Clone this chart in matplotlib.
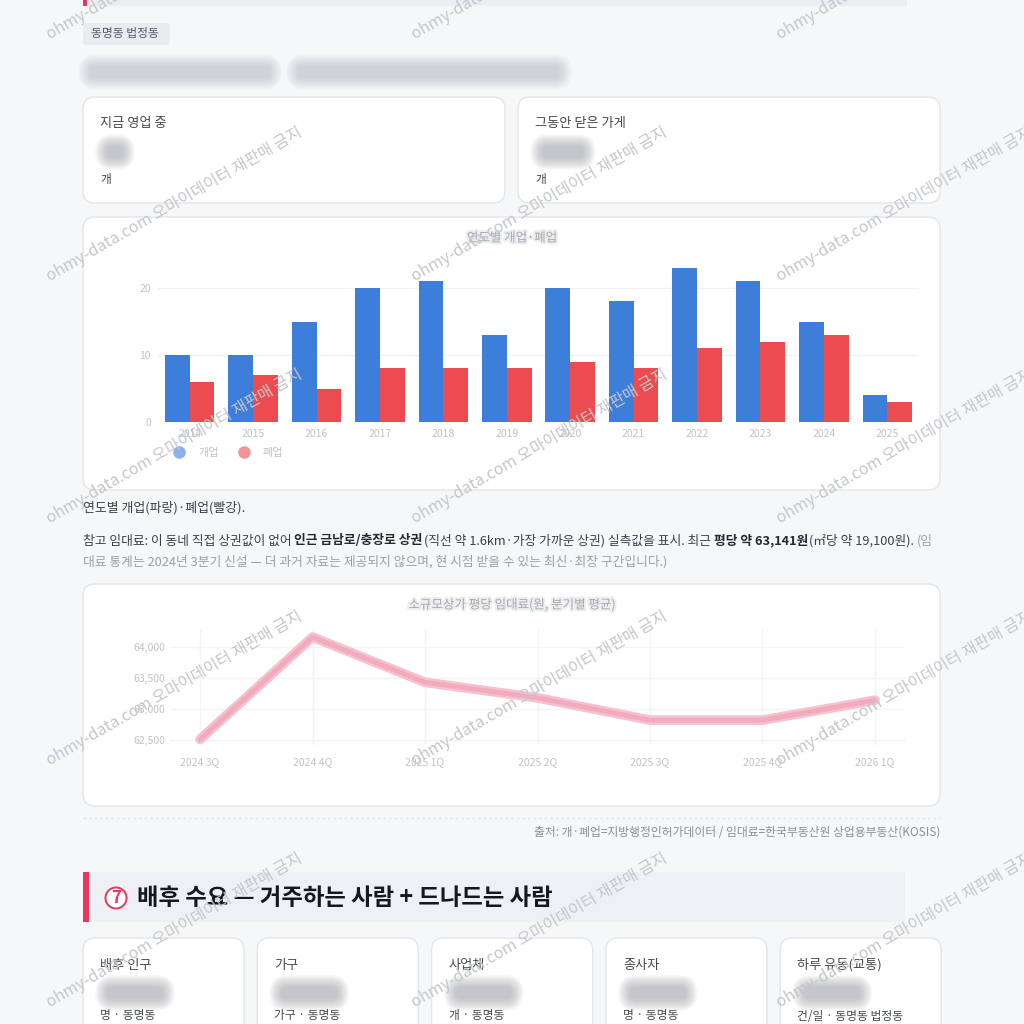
import matplotlib
matplotlib.use('Agg')
import matplotlib.pyplot as plt
import matplotlib.patches as patches
import matplotlib.patheffects as pe
from matplotlib.lines import Line2D
from matplotlib.ticker import FuncFormatter

plt.rcParams['font.family'] = ['Noto Sans CJK KR', 'DejaVu Sans']

# 연도별 개업/폐업
years = ['2014', '2015', '2016', '2017', '2018', '2019', '2020', '2021', '2022', '2023', '2024', '2025']
opened = [10, 10, 15, 20, 21, 13, 20, 18, 23, 21, 15, 4]
closed = [6, 7, 5, 8, 8, 8, 9, 8, 11, 12, 13, 3]

# 분기별 평당 임대료
quarters = ['2024 3Q', '2024 4Q', '2025 1Q', '2025 2Q', '2025 3Q', '2025 4Q', '2026 1Q']
rent = [62510, 64160, 63430, 63180, 62820, 62820, 63141]

top_cards = ['지금 영업 중', '그동안 닫은 가게']
demand_cards = ['배후 인구', '가구', '사업체', '종사자', '하루 유동(교통)']
demand_units = ['명 · 동명동', '가구 · 동명동', '개 · 동명동', '명 · 동명동', '건/일 · 동명동 법정동']

BG = '#f6f7f9'
BORDER = '#e2e5e9'
BLUE = '#3d7edb'
RED = '#ec4b50'
ACCENT = '#e8375f'

fig = plt.figure(figsize=(10.24, 10.24), dpi=100, facecolor=BG)
ax = fig.add_axes([0, 0, 1, 1])
ax.set_xlim(0, 1024)
ax.set_ylim(1024, 0)
ax.axis('off')
ax.set_facecolor(BG)


def card(x0, y0, x1, y1, fc='white', ec=BORDER, r=12):
    ax.add_patch(patches.FancyBboxPatch((x0, y0), x1 - x0, y1 - y0,
                                        boxstyle=f'round,pad=0,rounding_size={r}',
                                        fc=fc, ec=ec, lw=1))


def blob(x0, x1, yc, h, color='#8f939a', a=0.065, n=10):
    # 흐림 처리된 값 흉내
    for i in range(n):
        pad = (n - 1 - i) * 1.3
        ax.add_patch(patches.FancyBboxPatch((x0 - pad, yc - h / 2 - pad), x1 - x0 + 2 * pad, h + 2 * pad,
                                            boxstyle=f'round,pad=0,rounding_size={h / 2 + pad}',
                                            fc=color, ec='none', alpha=a))


def runs(x, y, parts, size):
    r = fig.canvas.get_renderer()
    t0 = ax.text(0, 0, '가 가', fontsize=size)
    t1 = ax.text(0, 0, '가가', fontsize=size)
    sp = t0.get_window_extent(r).width - t1.get_window_extent(r).width
    t0.remove()
    t1.remove()
    for s, w, c, space in parts:
        t = ax.text(x, y, s, fontsize=size, fontweight=w, color=c, va='center', ha='left')
        x += t.get_window_extent(r).width + (sp if space else 1)


# 상단 섹션 흔적
ax.add_patch(patches.Rectangle((87, 0), 820, 6, fc='#eceef1', ec='none'))
ax.add_patch(patches.Rectangle((83, 0), 4, 6, fc=ACCENT, ec='none'))

# 태그
card(83, 23, 170, 45, fc='#e8ecf1', ec='none', r=4)
ax.text(91, 34, '동명동 법정동', fontsize=8.5, color='#555b62', va='center')

# 흐린 부제
blob(90, 270, 72, 12, '#a3a7ad', a=0.05)
blob(298, 560, 72, 12, '#a3a7ad', a=0.05)

# 상단 카드 2개
for i, label in enumerate(top_cards):
    x0 = 83 + i * 435
    card(x0, 97, x0 + 422, 203)
    ax.text(x0 + 17, 124, label, fontsize=9.5, color='#444a50', va='center')
    blob(x0 + 24, x0 + (40 if i == 0 else 66), 152, 12)
    ax.text(x0 + 17, 180, '개', fontsize=8.5, color='#444a50', va='center')

# 막대 차트 카드
card(83, 217, 940, 490)
ax.text(512, 238, '연도별 개업·폐업', fontsize=9, color='#a4a8ae', ha='center', va='center',
        path_effects=[pe.withStroke(linewidth=3, foreground='#eceef0')])

bx = fig.add_axes([158 / 1024, 1 - 422 / 1024, 761 / 1024, 160 / 1024])
bx.set_facecolor('none')
pos = list(range(len(years)))
bx.bar([p - 0.195 for p in pos], opened, width=0.39, color=BLUE)
bx.bar([p + 0.195 for p in pos], closed, width=0.39, color=RED)
bx.set_xlim(-0.5, len(years) - 0.5)
bx.set_ylim(0, 23.9)
bx.set_yticks([0, 10, 20])
bx.set_xticks(pos)
bx.set_xticklabels(years)
bx.tick_params(length=0, labelsize=7.5, labelcolor='#c0c3c7', pad=5)
bx.grid(axis='y', color='#f0f1f3', lw=1)
bx.set_axisbelow(True)
for s in bx.spines.values():
    s.set_visible(False)
handles = [Line2D([], [], marker='o', ls='none', markerfacecolor=BLUE, markeredgecolor='none', markersize=9, alpha=0.6),
           Line2D([], [], marker='o', ls='none', markerfacecolor=RED, markeredgecolor='none', markersize=9, alpha=0.6)]
bx.legend(handles, ['개업', '폐업'], loc='upper left', bbox_to_anchor=(0.0, -0.1), ncol=2, frameon=False,
          fontsize=8, labelcolor='#c0c3c7', handletextpad=0.7, columnspacing=1.3)

# 설명 문단
ax.text(83, 508, '연도별 개업(파랑)·폐업(빨강).', fontsize=9.3, color='#3a4046', va='center')
runs(83, 541, [
    ('참고 임대료: 이 동네 직접 상권값이 없어', 'normal', '#3a4046', True),
    ('인근 금남로/충장로 상권', 'bold', '#23282d', False),
    ('(직선 약 1.6km·가장 가까운 상권) 실측값을 표시. 최근', 'normal', '#3a4046', True),
    ('평당 약 63,141원', 'bold', '#23282d', False),
    ('(㎡당 약 19,100원).', 'normal', '#3a4046', True),
    ('(임', 'normal', '#9aa0a7', False),
], 9.2)
ax.text(83, 562, '대료 통계는 2024년 3분기 신설 — 더 과거 자료는 제공되지 않으며, 현 시점 받을 수 있는 최신·최장 구간입니다.)',
        fontsize=9.2, color='#9aa0a7', va='center')

# 임대료 라인 차트 카드
card(83, 584, 940, 806)
ax.text(512, 605, '소규모상가 평당 임대료(원, 분기별 평균)', fontsize=9, color='#a4a8ae', ha='center', va='center',
        path_effects=[pe.withStroke(linewidth=3, foreground='#eceef0')])

lx = fig.add_axes([170 / 1024, 1 - 745 / 1024, 735 / 1024, 115 / 1024])
lx.set_facecolor('none')
lx.plot(range(len(quarters)), rent, color='#f6c2cf', lw=7, solid_joinstyle='round', solid_capstyle='round')
lx.plot(range(len(quarters)), rent, color='#f2aabd', lw=3.5, solid_joinstyle='round', solid_capstyle='round')
lx.set_xlim(-0.267, len(quarters) - 1 + 0.267)
lx.set_ylim(62419, 64274)
lx.set_yticks([62500, 63000, 63500, 64000])
lx.yaxis.set_major_formatter(FuncFormatter(lambda v, p: f'{v:,.0f}'))
lx.set_xticks(range(len(quarters)))
lx.set_xticklabels(quarters)
lx.tick_params(length=0, labelsize=7.5, labelcolor='#c0c3c7')
lx.tick_params(axis='x', pad=9)
lx.grid(color='#f3f4f5', lw=1)
lx.set_axisbelow(True)
for s in lx.spines.values():
    s.set_visible(False)

# 구분선, 출처
ax.plot([83, 940], [818, 818], color='#e3e5e8', lw=1, ls=(0, (2, 2)))
ax.text(940, 832, '출처: 개·폐업=지방행정인허가데이터 / 임대료=한국부동산원 상업용부동산(KOSIS)',
        fontsize=8.5, color='#8a9097', ha='right', va='center')

# 섹션 헤더
ax.add_patch(patches.Rectangle((83, 872), 822, 50, fc='#eef0f3', ec='none'))
ax.add_patch(patches.Rectangle((83, 872), 6, 50, fc=ACCENT, ec='none'))
ax.add_patch(patches.Circle((116, 898), 10.5, fc='white', ec=ACCENT, lw=1.4))
ax.text(116, 898, '7', fontsize=12, fontweight='bold', color=ACCENT, ha='center', va='center')
ax.text(137, 898, '배후 수요 — 거주하는 사람 + 드나드는 사람', fontsize=16.8, fontweight='heavy',
        color='#15191e', va='center')

# 배후 수요 카드
for i, (label, unit) in enumerate(zip(demand_cards, demand_units)):
    x0 = 83 + i * 174.3
    card(x0, 938, x0 + 161, 1040)
    ax.text(x0 + 17, 965, label, fontsize=9.5, color='#444a50', va='center')
    blob(x0 + 24, x0 + 80, 993, 12)
    ax.text(x0 + 17, 1016, unit, fontsize=8.5, color='#444a50', va='center')

# 워터마크
wm = fig.add_axes([0, 0, 1, 1])
wm.set_xlim(0, 1024)
wm.set_ylim(1024, 0)
wm.axis('off')
for ry in [40, 282, 524, 766, 1008]:
    for cx in [50, 415, 780]:
        wm.text(cx, ry, 'ohmy-data.com 오마이데이터 재판매 금지', fontsize=11.5, color='#c3c6cb',
                rotation=30, rotation_mode='anchor', ha='left', va='baseline')

fig.savefig('out.png', dpi=100, facecolor=BG)
